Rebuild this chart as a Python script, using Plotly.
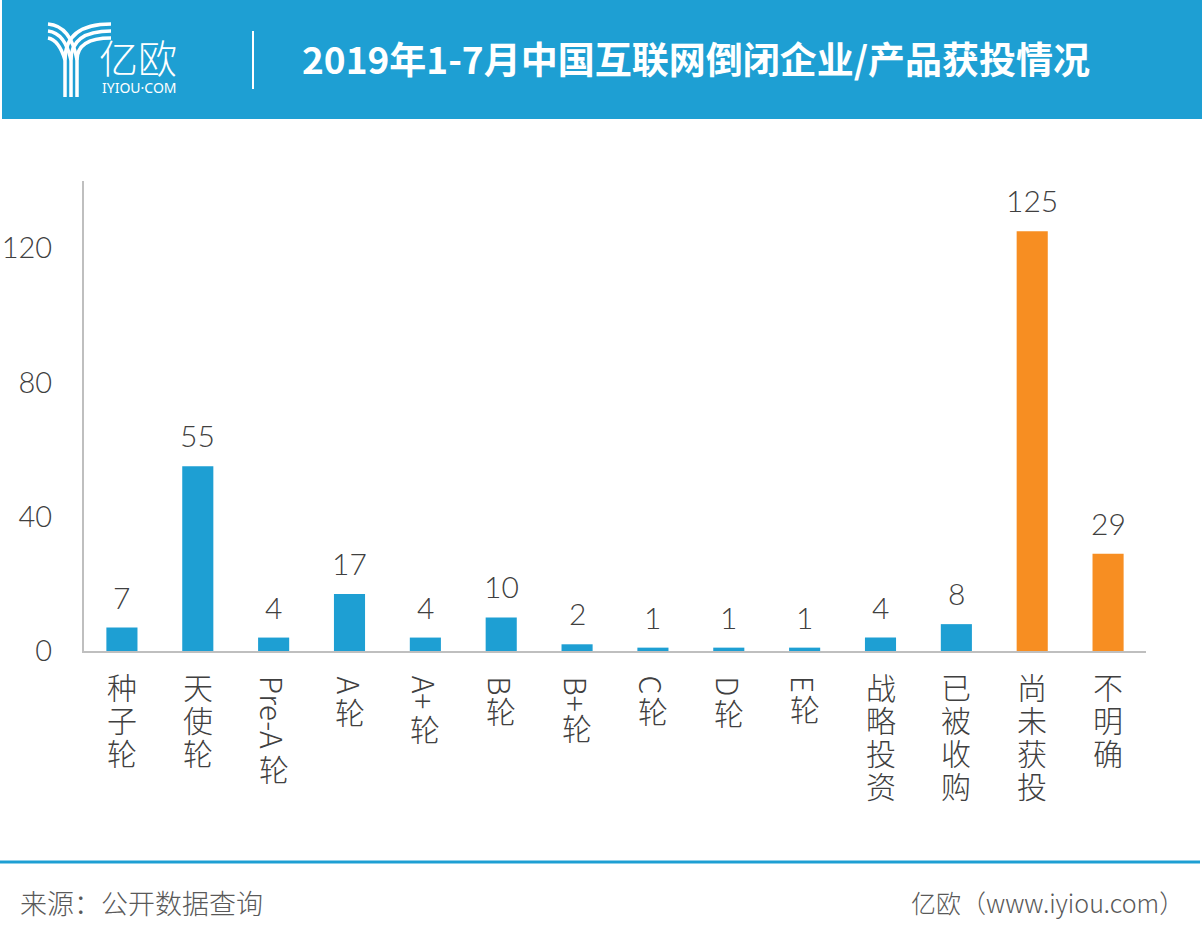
import plotly.graph_objects as go

# ---------------- data ----------------
categories = ["种子轮", "天使轮", "Pre-A轮", "A轮", "A+轮", "B轮", "B+轮", "C轮", "D轮", "E轮",
              "战略投资", "已被收购", "尚未获投", "不明确"]
values = [7, 55, 4, 17, 4, 10, 2, 1, 1, 1, 4, 8, 125, 29]
bar_colors = ["#1E9FD3"] * 12 + ["#F78E22"] * 2
y_ticks = [0, 40, 80, 120]
title_text = "2019年1-7月中国互联网倒闭企业/产品获投情况"
source_text = "来源：公开数据查询"
credit_text = "亿欧（www.iyiou.com）"

# ---------------- layout geometry ----------------
W_FIG, H_FIG = 1204, 940
L, R, T, B = 84, 1146, 181, 651
PW, PH = R - L, B - T


def px(x):
    return (x - L) / PW


def py(y):
    return (B - y) / PH


CJK = "Noto Sans CJK SC"
NUM = "Lato, Noto Sans CJK SC"
BLUE = "#1E9FD3"
TXT = "#404040"

fig = go.Figure()
fig.add_trace(go.Bar(
    x=list(range(len(categories))), y=values,
    marker=dict(color=bar_colors, line=dict(width=0)),
    width=0.41, hoverinfo="skip",
))

ann = []
shapes = []

# data labels
for i, v in enumerate(values):
    ann.append(dict(x=i, y=v, xref="x", yref="y", text=str(v), showarrow=False,
                    yanchor="bottom", xanchor="center", yshift=11,
                    font=dict(family=NUM, size=30, color=TXT, weight=300)))

# vertical category labels (CJK upright, Latin runs rotated as in vertical writing)
latin_w = {"P": 0.60, "r": 0.38, "e": 0.56, "-": 0.36, "A": 0.66, "+": 0.57,
           "B": 0.62, "C": 0.62, "D": 0.70, "E": 0.55}
FS = 30
for i, lab in enumerate(categories):
    g = 25  # pixel distance below axis where next glyph starts
    runs = []
    for ch in lab:
        is_lat = ord(ch) < 128
        if runs and runs[-1][0] and is_lat:
            runs[-1][1] += ch
        else:
            runs.append([is_lat, ch])
    for is_lat, s in runs:
        if is_lat:
            length = sum(latin_w.get(c, 0.6) for c in s) * FS
            ann.append(dict(x=i, y=0, xref="x", yref="paper", text=s, showarrow=False,
                            textangle=90, xanchor="center", yanchor="top",
                            yshift=-(g - 2),
                            font=dict(family=CJK, size=FS, color=TXT, weight=300)))
            g += length + 5
        else:
            for ch in s:
                ann.append(dict(x=i, y=0, xref="x", yref="paper", text=ch, showarrow=False,
                                xanchor="center", yanchor="top", yshift=-(g - 14),
                                font=dict(family=CJK, size=FS, color=TXT, weight=300)))
                g += 33

# header band
shapes.append(dict(type="rect", xref="paper", yref="paper", x0=px(2), x1=px(1202),
                   y0=py(119), y1=py(0), fillcolor=BLUE, line=dict(width=0), layer="below"))
# divider in header
shapes.append(dict(type="line", xref="paper", yref="paper", x0=px(253), x1=px(253),
                   y0=py(31), y1=py(89), line=dict(color="white", width=2)))


# logo symbol (stylised Y made of stripes)
def P(x, y):
    return f"{px(x):.5f},{py(y):.5f}"


for k in range(3):
    xs = 65 + 6 * k
    ys = 24 + 7 * k
    shapes.append(dict(type="path", xref="paper", yref="paper",
                       path=f"M {P(111, ys)} Q {P(xs, ys)} {P(xs, 60)} L {P(xs, 97)}",
                       line=dict(color="white", width=3.5)))
    xl = 65 + 6 * (2 - k)
    yl = 24 + 7 * k
    shapes.append(dict(type="path", xref="paper", yref="paper",
                       path=f"M {P(48, yl)} Q {P(xl - 6, yl + 2)} {P(xl, 60)}",
                       line=dict(color="white", width=3.5)))

ann.append(dict(x=px(97), y=py(56), xref="paper", yref="paper", text="亿欧", showarrow=False,
                xanchor="left", yanchor="middle",
                font=dict(family=CJK, size=39, color="white", weight=300)))
ann.append(dict(x=px(139), y=py(87), xref="paper", yref="paper", text="IYIOU·COM", showarrow=False,
                xanchor="center", yanchor="middle",
                font=dict(family="Noto Sans", size=14, color="white")))
ann.append(dict(x=px(300), y=py(58), xref="paper", yref="paper", text="<b>" + title_text + "</b>",
                showarrow=False, xanchor="left", yanchor="middle",
                font=dict(family=CJK, size=37, color="white")))

# footer
shapes.append(dict(type="line", xref="paper", yref="paper", x0=px(0), x1=px(1200),
                   y0=py(862), y1=py(862), line=dict(color=BLUE, width=3)))
ann.append(dict(x=px(18), y=py(902), xref="paper", yref="paper", text=source_text, showarrow=False,
                xanchor="left", yanchor="middle",
                font=dict(family=CJK, size=27, color="#595959", weight=300)))
ann.append(dict(x=px(1186), y=py(902), xref="paper", yref="paper", text=credit_text, showarrow=False,
                xanchor="right", yanchor="middle",
                font=dict(family=CJK, size=25, color="#595959", weight=300)))

fig.update_layout(
    width=W_FIG, height=H_FIG,
    margin=dict(l=L, r=W_FIG - R, t=T, b=H_FIG - B, autoexpand=False),
    paper_bgcolor="white", plot_bgcolor="white",
    showlegend=False,
    annotations=ann, shapes=shapes,
    xaxis=dict(range=[-0.5, len(categories) - 0.5], showticklabels=False, ticks="",
               showgrid=False, zeroline=False, showline=True, linecolor="#BFBFBF", linewidth=2),
    yaxis=dict(range=[0, 140], tickvals=y_ticks, ticks="", showgrid=False, zeroline=False,
               showline=True, linecolor="#BFBFBF", linewidth=2, ticklabelstandoff=24,
               tickfont=dict(family=NUM, size=29, color=TXT, weight=300)),
)

fig.write_html("out.html", config={"displayModeBar": False},
               post_script="document.body.style.margin='0px';")
